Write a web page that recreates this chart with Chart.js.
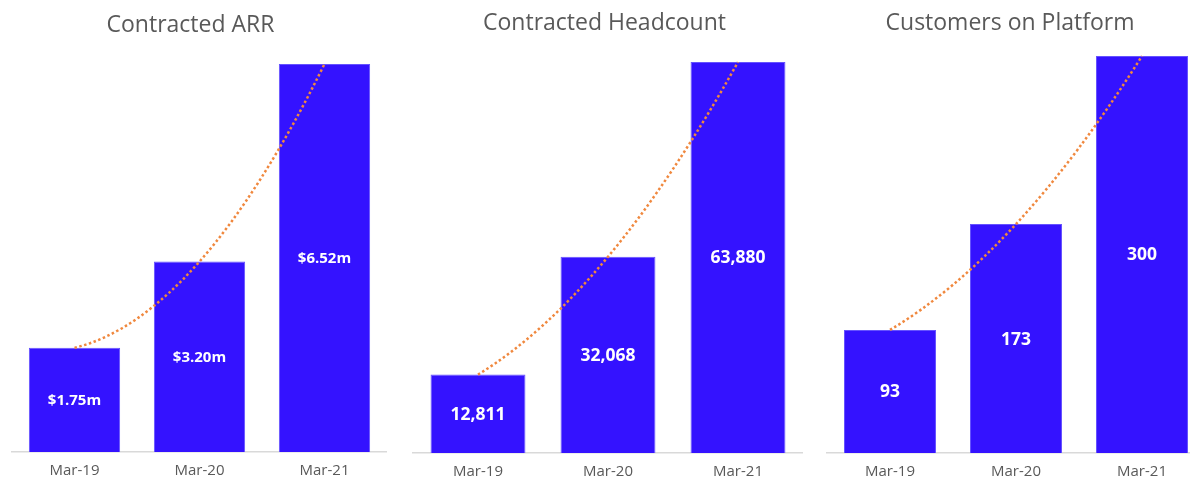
<!DOCTYPE html>
<html>
<head>
<meta charset="utf-8">
<script src="https://cdn.jsdelivr.net/npm/chart.js@4.4.1/dist/chart.umd.min.js"></script>
<style>
  html, body { margin: 0; padding: 0; background: #ffffff; }
  #lienzo { position: relative; width: 1190px; height: 482px; overflow: hidden; background: #ffffff; }
  .panel { position: absolute; top: 0; height: 482px; }
</style>
</head>
<body>
<div id="lienzo"></div>
<script>
// datos de la imagen
const categories = ['Mar-19', 'Mar-20', 'Mar-21'];
const arrValues = [1.75, 3.20, 6.52];
const arrLabels = ['$1.75m', '$3.20m', '$6.52m'];
const headcountValues = [12811, 32068, 63880];
const customerValues = [93, 173, 300];

const AZUL = '#3412ff';
const NARANJA = '#f0883e';
const GRIS = '#595959';
const TITULO_PX = 23;

// linea de tendencia (polinomica de grado 2, como en Excel) que pasa por los
// tres valores: una curva cuadratica con el punto de control sacado de las barras
const tendencia = {
  id: 'tendencia',
  afterDatasetsDraw(chart) {
    const { ctx, chartArea, scales } = chart;
    const vals = chart.data.datasets[0].data;
    const p = vals.map((v, i) => ({ x: scales.x.getPixelForValue(i), y: scales.y.getPixelForValue(v) }));
    const cx = 2 * p[1].x - (p[0].x + p[2].x) / 2;
    const cy = 2 * p[1].y - (p[0].y + p[2].y) / 2;
    ctx.save();
    ctx.beginPath();
    ctx.rect(chartArea.left, chartArea.top, chartArea.right - chartArea.left, chartArea.bottom - chartArea.top);
    ctx.clip();
    ctx.strokeStyle = NARANJA;
    ctx.lineWidth = 2.5;
    ctx.setLineDash([2.5, 2.5]);
    ctx.beginPath();
    ctx.moveTo(p[0].x, p[0].y);
    ctx.quadraticCurveTo(cx, cy, p[2].x, p[2].y);
    ctx.stroke();
    ctx.restore();
  }
};

// etiquetas blancas en el centro de cada barra
const etiquetasBarras = {
  id: 'etiquetasBarras',
  afterDatasetsDraw(chart, args, opts) {
    const ctx = chart.ctx;
    const meta = chart.getDatasetMeta(0);
    ctx.save();
    ctx.fillStyle = '#ffffff';
    ctx.font = `bold ${opts.size}px "Open Sans"`;
    ctx.textAlign = 'center';
    ctx.textBaseline = 'middle';
    meta.data.forEach((barra, i) => {
      const y = (barra.y + barra.base) / 2;
      ctx.fillText(opts.textos[i], barra.x, y + 1);
    });
    ctx.restore();
  }
};

function crearPanel(cfg) {
  const div = document.createElement('div');
  div.className = 'panel';
  div.style.left = cfg.left + 'px';
  div.style.width = cfg.width + 'px';
  const canvas = document.createElement('canvas');
  canvas.width = cfg.width;
  canvas.height = 482;
  div.appendChild(canvas);
  document.getElementById('lienzo').appendChild(div);

  const mitad = TITULO_PX * 1.2 / 2;

  new Chart(canvas.getContext('2d'), {
    type: 'bar',
    data: {
      labels: categories,
      datasets: [{
        data: cfg.values,
        backgroundColor: AZUL,
        borderColor: '#6552ff',
        borderWidth: 1,
        categoryPercentage: 0.73,
        barPercentage: 1
      }]
    },
    options: {
      responsive: false,
      animation: false,
      layout: {
        padding: { left: 0, right: 0, top: 0, bottom: 482 - cfg.bottom - 39 }
      },
      plugins: {
        legend: { display: false },
        tooltip: { enabled: false },
        title: {
          display: true,
          text: cfg.title,
          color: GRIS,
          font: { family: '"Open Sans"', size: TITULO_PX, weight: 'normal' },
          padding: { top: cfg.titleY - mitad, bottom: cfg.top - cfg.titleY - mitad }
        },
        etiquetasBarras: { textos: cfg.labels, size: cfg.labelSize }
      },
      scales: {
        y: {
          min: 0,
          max: cfg.yMax,
          grid: { display: false, drawTicks: false },
          border: { display: false },
          ticks: { display: false },
          afterFit: s => { s.width = cfg.yWidth; }
        },
        x: {
          grid: { display: false, drawTicks: false },
          border: { display: true, color: '#d9d9d9', width: 1.5 },
          ticks: {
            color: GRIS,
            padding: 10,
            font: { family: '"Open Sans"', size: 15 }
          }
        }
      }
    },
    plugins: [tendencia, etiquetasBarras]
  });
}

crearPanel({
  title: 'Contracted ARR', values: arrValues, labels: arrLabels, labelSize: 15,
  left: -6, width: 393, yWidth: 18,
  yMax: 6.587, titleY: 25, top: 60, bottom: 451
});
crearPanel({
  title: 'Contracted Headcount', values: headcountValues,
  labels: headcountValues.map(v => v.toLocaleString('en-US')), labelSize: 17.5,
  left: 406, width: 397, yWidth: 7,
  yMax: 64208, titleY: 23, top: 60, bottom: 452
});
crearPanel({
  title: 'Customers on Platform', values: customerValues,
  labels: customerValues.map(v => String(v)), labelSize: 17.5,
  left: 815, width: 390, yWidth: 12,
  yMax: 301.5, titleY: 23, top: 54, bottom: 452
});
</script>
</body>
</html>
